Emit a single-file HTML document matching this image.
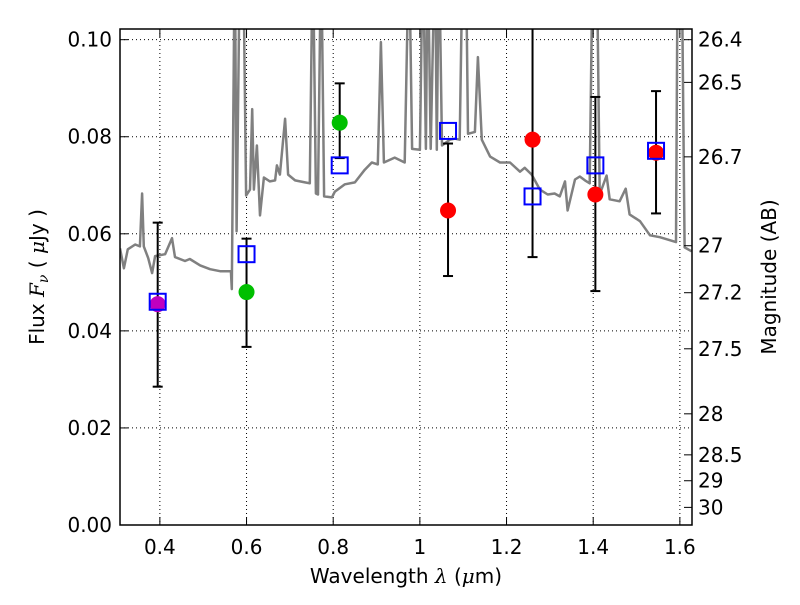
<!DOCTYPE html>
<html><head><meta charset="utf-8"><style>
body{margin:0;background:#fff;}
svg{font-family:"DejaVu Sans","Liberation Sans",sans-serif;}
</style></head><body>
<svg id="chart" width="800" height="600" xmlns="http://www.w3.org/2000/svg">
<defs><clipPath id="clip"><rect x="120" y="29" width="572" height="496"/></clipPath></defs>
<g id="grid"></g>
<g id="spec" clip-path="url(#clip)"></g>
<g id="marks" clip-path="url(#clip)"></g>
<rect x="120" y="29" width="572" height="496" fill="none" stroke="#000" stroke-width="1.5"/>
<g id="axes"></g>
<text x="406" y="583" font-size="20" text-anchor="middle">Wavelength  <tspan font-style="italic" font-family="DejaVu Serif,serif">λ</tspan> (<tspan font-style="italic" font-family="DejaVu Serif,serif">μ</tspan>m)</text>
<text transform="translate(44,277) rotate(-90)" font-size="20" text-anchor="middle">Flux  <tspan font-style="italic" font-family="DejaVu Serif,serif">F</tspan><tspan font-style="italic" font-family="DejaVu Serif,serif" font-size="14" dy="4">ν</tspan><tspan dy="-4">  ( </tspan><tspan font-style="italic" font-family="DejaVu Serif,serif">μ</tspan>Jy )</text>
<text transform="translate(776,277) rotate(-90)" font-size="20" text-anchor="middle">Magnitude (AB)</text>
</svg>
<script>
const xTicks=[0.4,0.6,0.8,1.0,1.2,1.4,1.6];
const xTickLabels=["0.4","0.6","0.8","1","1.2","1.4","1.6"];
const yTicks=[0,0.02,0.04,0.06,0.08,0.10];
const yTickLabels=["0.00","0.02","0.04","0.06","0.08","0.10"];
const magTicks=[26.4,26.5,26.7,27,27.2,27.5,28,28.5,29,30];
const specWave=[0.308,0.317,0.326,0.343,0.354,0.359,0.363,0.373,0.382,0.389,0.412,0.428,0.435,0.458,0.469,0.493,0.516,0.539,0.564,0.566,0.573,0.577,0.585,0.592,0.599,0.608,0.613,0.617,0.624,0.631,0.640,0.654,0.666,0.670,0.677,0.689,0.696,0.712,0.735,0.746,0.753,0.760,0.765,0.772,0.779,0.797,0.804,0.827,0.850,0.873,0.889,0.903,0.910,0.917,0.942,0.965,0.975,0.982,1.000,1.007,1.014,1.018,1.025,1.035,1.039,1.044,1.051,1.069,1.081,1.092,1.099,1.106,1.111,1.127,1.134,1.143,1.162,1.185,1.208,1.231,1.242,1.258,1.277,1.295,1.311,1.323,1.335,1.341,1.358,1.369,1.381,1.392,1.399,1.408,1.415,1.431,1.438,1.461,1.475,1.484,1.508,1.531,1.554,1.591,1.595,1.604,1.611,1.627];
const specFlux=[0.0570,0.0529,0.0568,0.0578,0.0574,0.0683,0.0574,0.0550,0.0519,0.0554,0.0558,0.0591,0.0552,0.0544,0.0548,0.0535,0.0527,0.0523,0.0523,0.0486,0.12,0.0605,0.12,0.12,0.0679,0.0691,0.0857,0.0691,0.0782,0.0638,0.0716,0.0708,0.0710,0.0741,0.0722,0.0837,0.0722,0.0710,0.0706,0.0704,0.12,0.0683,0.0681,0.12,0.0677,0.0675,0.0687,0.0702,0.0706,0.0732,0.0747,0.0743,0.0995,0.0747,0.0757,0.0747,0.12,0.0775,0.0773,0.12,0.0775,0.12,0.0775,0.12,0.0773,0.12,0.0782,0.0794,0.0796,0.0794,0.12,0.12,0.0806,0.0810,0.0964,0.0794,0.0759,0.0747,0.0747,0.0728,0.0736,0.0722,0.0691,0.0681,0.0683,0.0677,0.0708,0.0648,0.0712,0.0718,0.0710,0.0704,0.12,0.12,0.0681,0.0720,0.0671,0.0667,0.0693,0.0640,0.0626,0.0597,0.0593,0.0583,0.12,0.12,0.0572,0.0564];
const bandWave=[0.395,0.60,0.815,1.065,1.26,1.405,1.545];
const obsFlux=[0.0455,0.048,0.0829,0.0648,0.0794,0.0681,0.0767];
const obsErrHi=[0.0623,0.059,0.091,0.0786,0.115,0.0882,0.0894];
const obsErrLo=[0.0285,0.0367,0.0756,0.0513,0.0552,0.0482,0.0642];
const obsColor=["#bf00bf","#00bf00","#00bf00","#ff0000","#ff0000","#ff0000","#ff0000"];
const modelFlux=[0.046,0.0558,0.0741,0.0812,0.0677,0.0741,0.0771];

const X0=120,X1=692,Y0=525,Y1=29,xmin=0.308,xmax=1.628,ymin=0,ymax=0.1022;
const sx=v=>X0+(v-xmin)/(xmax-xmin)*(X1-X0);
const sy=v=>Y0-(v-ymin)/(ymax-ymin)*(Y0-Y1);
const NS="http://www.w3.org/2000/svg";
function mk(tag,attrs,parent){const e=document.createElementNS(NS,tag);for(const k in attrs)e.setAttribute(k,attrs[k]);parent.appendChild(e);return e;}
const grid=document.getElementById('grid'),axes=document.getElementById('axes');
xTicks.forEach((t,i)=>{const x=sx(t);
 const g=mk('line',{x1:x,x2:x,y1:Y1,y2:Y0,stroke:'#000','stroke-width':1,'stroke-dasharray':'1,3'},grid);
 
 mk('line',{x1:x,x2:x,y1:Y0,y2:Y0-8,stroke:'#000','stroke-width':1},axes);
 mk('line',{x1:x,x2:x,y1:Y1,y2:Y1+8,stroke:'#000','stroke-width':1},axes);
 const tx=mk('text',{x:x,y:Y0+29,'font-size':20,'text-anchor':'middle'},axes);tx.textContent=xTickLabels[i];
 });
yTicks.forEach((t,i)=>{const y=sy(t);
 const g=mk('line',{x1:X0,x2:X1,y1:y,y2:y,stroke:'#000','stroke-width':1,'stroke-dasharray':'1,3'},grid);
 
 mk('line',{x1:X0,x2:X0+8,y1:y,y2:y,stroke:'#000','stroke-width':1},axes);
 const tx=mk('text',{x:X0-8,y:y+7,'font-size':20,'text-anchor':'end'},axes);tx.textContent=yTickLabels[i];
 });
magTicks.forEach(m=>{const f=Math.pow(10,(23.9-m)/2.5);const y=sy(f);
 mk('line',{x1:X1,x2:X1-8,y1:y,y2:y,stroke:'#000','stroke-width':1},axes);
 const tx=mk('text',{x:X1+6,y:y+7,'font-size':20},axes);tx.textContent=String(m);
 });
const spec=document.getElementById('spec');
const d=specWave.map((w,i)=>(i?'L':'M')+sx(w).toFixed(1)+','+sy(specFlux[i]).toFixed(1)).join('');
const p=mk('path',{d:d,fill:'none',stroke:'#808080','stroke-width':2.5,'stroke-linejoin':'round'},spec);

const marks=document.getElementById('marks');
bandWave.forEach((w,i)=>{const x=sx(w);
 const e=mk('line',{x1:x,x2:x,y1:sy(obsErrHi[i]),y2:sy(obsErrLo[i]),stroke:'#000','stroke-width':2},marks);
 
 [obsErrHi[i],obsErrLo[i]].forEach(v=>mk('line',{x1:x-5,x2:x+5,y1:sy(v),y2:sy(v),stroke:'#000','stroke-width':2},marks));
 const c=mk('circle',{cx:x,cy:sy(obsFlux[i]),r:8,fill:obsColor[i]},marks);
 
 const r=mk('rect',{x:x-8,y:sy(modelFlux[i])-8,width:16,height:16,fill:'none',stroke:'#0000ff','stroke-width':2},marks);
 });
</script>
</body></html>
